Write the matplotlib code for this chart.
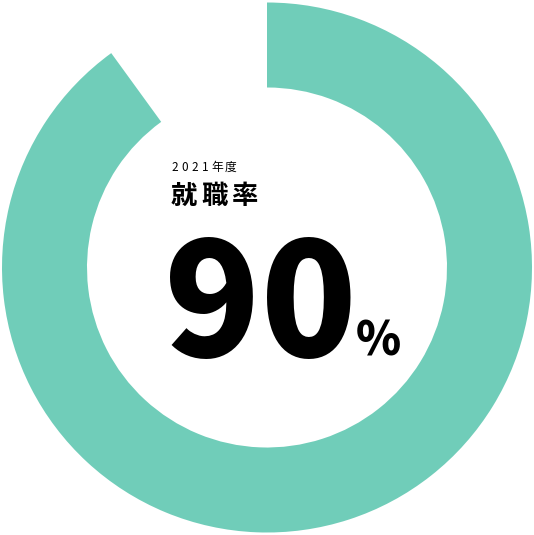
import matplotlib.pyplot as plt

# data
rate = 90
values = [rate, 100 - rate]
year_label = "2021年度"
title_label = "就職率"

TEAL = "#70cdb9"

fig = plt.figure(figsize=(5.34, 5.35), dpi=100)
ax = fig.add_axes([0, 0, 1, 1])

# donut (pixel coords, y up)
ax.pie(values, colors=[TEAL, "none"], startangle=90, counterclock=False,
       center=(267, 267.5), radius=265, frame=True,
       wedgeprops=dict(width=85, linewidth=0))
ax.set_xlim(0, 534)
ax.set_ylim(0, 535)
ax.set_aspect("equal")
ax.axis("off")

jp = ["Noto Sans CJK JP", "DejaVu Sans"]

# small year label, spaced letters
x = 171
for ch in year_label:
    ax.text(x, 535 - 167.5, ch, fontsize=8.5, family=jp, va="center", ha="left")
    x += 10.2 if ch.isdigit() else 12.5

# title, spaced letters
x = 171
for ch in title_label:
    ax.text(x, 535 - 196, ch, fontsize=19, family=jp, weight="bold", va="center", ha="left")
    x += 30

ax.text(164, 535 - 357, str(rate), fontsize=114, family=jp,
        weight="black", va="baseline", ha="left")
ax.text(356, 535 - 355, "%", fontsize=33, family=jp,
        weight="black", va="baseline", ha="left")

fig.savefig("out.png", dpi=100)
